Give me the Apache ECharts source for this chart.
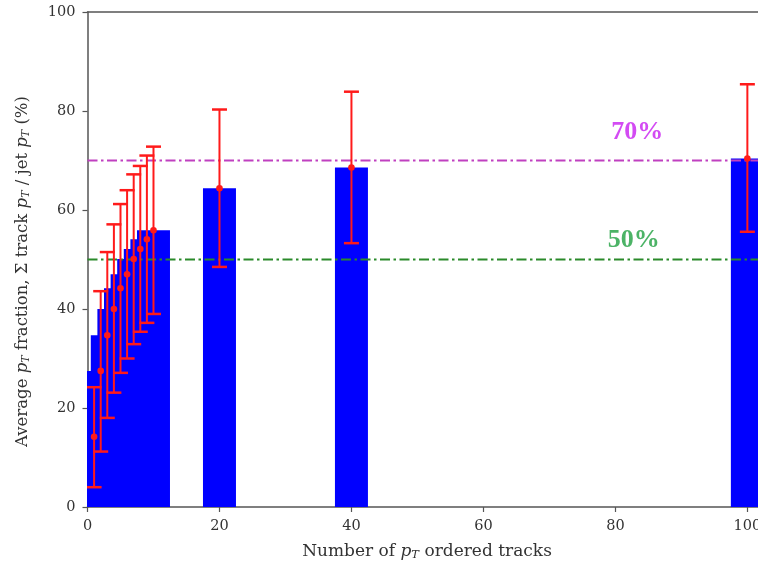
<!DOCTYPE html>
<html>
<head>
<meta charset="utf-8">
<script src="https://cdn.jsdelivr.net/npm/echarts@6/dist/echarts.min.js"></script>
<style>
html,body{margin:0;padding:0;background:#fff;overflow:hidden;}
#chart{width:758px;height:567px;}
</style>
</head>
<body>
<div id="chart"></div>
<script>
// Data
const tracks   = [1, 2, 3, 4, 5, 6, 7, 8, 9, 10, 20, 40, 100];
const meanFrac = [14.2, 27.5, 34.7, 40.0, 44.2, 47.0, 50.1, 52.1, 54.1, 55.9, 64.4, 68.6, 70.4];
const errLow   = [4.0, 11.2, 18.0, 23.1, 27.1, 30.0, 32.9, 35.4, 37.2, 39.0, 48.5, 53.3, 55.6];
const errHigh  = [24.2, 43.6, 51.5, 57.1, 61.2, 64.0, 67.2, 68.9, 71.0, 72.8, 80.3, 83.9, 85.4];
const barWidthUnits = 5;
const refLevels = [70, 50];
const refTexts = ['70%', '50%'];
const refTextPos = [[83.3, 75.8], [82.8, 53.8]];
const xTicks = [0, 20, 40, 60, 80, 100];
const yTicks = [0, 20, 40, 60, 80, 100];

const X_MAX = 102.9;
const chart = echarts.init(document.getElementById('chart'));

const barData = tracks.map((t, i) => [t, meanFrac[i]]);
const errData = tracks.map((t, i) => [t, meanFrac[i], errLow[i], errHigh[i]]);

const axisColor = '#555';
const serif = 'DejaVu Serif';

const option = {
  animation: false,
  backgroundColor: '#fff',
  grid: { left: 87.5, top: 12, height: 495, width: 679, containLabel: false, outerBoundsMode: 'none' },
  xAxis: [{
    type: 'value', min: 0, max: X_MAX, interval: 20,
    axisLine: { show: true, onZero: false, lineStyle: { color: axisColor, width: 1.5 } },
    axisTick: { show: true, inside: false, length: 5, lineStyle: { color: axisColor, width: 1.2 } },
    splitLine: { show: false },
    axisLabel: {
      color: '#333', fontFamily: serif, fontSize: 14.5, margin: 12,
      formatter: v => (xTicks.indexOf(v) >= 0 ? String(v) : '')
    },
    name: '{n|Number of }{i|p}{s|T}{n| ordered tracks}',
    nameLocation: 'middle', nameGap: 35,
    nameTextStyle: {
      color: '#333', fontFamily: serif, fontSize: 17,
      rich: {
        n: { fontFamily: serif, fontSize: 17, color: '#333' },
        i: { fontFamily: serif, fontSize: 17, fontStyle: 'italic', color: '#333' },
        s: { fontFamily: serif, fontSize: 11.5, fontStyle: 'italic', color: '#333', padding: [7, 0, 0, 0] }
      }
    }
  }, {
    type: 'value', min: 0, max: X_MAX, position: 'top',
    axisLine: { show: true, onZero: false, lineStyle: { color: axisColor, width: 1.5 } },
    axisTick: { show: false }, axisLabel: { show: false }, splitLine: { show: false }
  }],
  yAxis: {
    type: 'value', min: 0, max: 100, interval: 20,
    axisLine: { show: true, onZero: false, lineStyle: { color: axisColor, width: 1.5 } },
    axisTick: { show: true, inside: false, length: 5, lineStyle: { color: axisColor, width: 1.2 } },
    splitLine: { show: false },
    axisLabel: {
      color: '#333', fontFamily: serif, fontSize: 14.5, margin: 12,
      formatter: v => (yTicks.indexOf(v) >= 0 ? String(v) : '')
    },
    name: '{n|Average }{i|p}{s|T}{n| fraction, Σ track }{i|p}{s|T}{n| / jet }{i|p}{s|T}{n| (%)}',
    nameLocation: 'middle', nameGap: 56,
    nameTextStyle: {
      color: '#333', fontFamily: serif, fontSize: 16.5, padding: [0, 24, 0, 0],
      rich: {
        n: { fontFamily: serif, fontSize: 16.5, color: '#333' },
        i: { fontFamily: serif, fontSize: 16.5, fontStyle: 'italic', color: '#333' },
        s: { fontFamily: serif, fontSize: 11, fontStyle: 'italic', color: '#333', padding: [7, 0, 0, 0] }
      }
    }
  },
  series: [
    {
      type: 'custom', name: 'bars', clip: true,
      data: barData,
      encode: { x: 0, y: 1 },
      renderItem: function (params, api) {
        const x = api.value(0), y = api.value(1);
        const p0 = api.coord([x - barWidthUnits / 2, y]);
        const p1 = api.coord([x + barWidthUnits / 2, 0]);
        return {
          type: 'rect',
          shape: { x: p0[0], y: p0[1], width: p1[0] - p0[0], height: p1[1] - p0[1] },
          style: { fill: '#0000ff' }
        };
      },
      z: 2
    },
    {
      type: 'line', name: 'ref70', data: [[0, refLevels[0]], [X_MAX, refLevels[0]]],
      symbol: 'none', lineStyle: { color: '#c040c0', width: 2, type: [10, 3.5, 2.5, 3.5] }, z: 3, silent: true
    },
    {
      type: 'line', name: 'ref50', data: [[0, refLevels[1]], [X_MAX, refLevels[1]]],
      symbol: 'none', lineStyle: { color: '#2a8a2a', width: 2, type: [10, 3.5, 2.5, 3.5] }, z: 3, silent: true
    },
    {
      type: 'custom', name: 'errors', clip: true,
      data: errData,
      encode: { x: 0, y: [1, 2, 3] },
      renderItem: function (params, api) {
        const x = api.value(0);
        const m = api.coord([x, api.value(1)]);
        const lo = api.coord([x, api.value(2)]);
        const hi = api.coord([x, api.value(3)]);
        const cw = 7.5;
        return {
          type: 'group',
          children: [
            { type: 'line', shape: { x1: lo[0], y1: lo[1], x2: hi[0], y2: hi[1] }, style: { stroke: '#ff1a1a', lineWidth: 2 } },
            { type: 'line', shape: { x1: lo[0] - cw, y1: lo[1], x2: lo[0] + cw, y2: lo[1] }, style: { stroke: '#ff1a1a', lineWidth: 2.5 } },
            { type: 'line', shape: { x1: hi[0] - cw, y1: hi[1], x2: hi[0] + cw, y2: hi[1] }, style: { stroke: '#ff1a1a', lineWidth: 2.5 } },
            { type: 'circle', shape: { cx: m[0], cy: m[1], r: 3.3 }, style: { fill: '#ff1a1a' } }
          ]
        };
      },
      z: 4
    },
    {
      type: 'scatter', name: 'texts', symbolSize: 0, silent: true,
      data: refTextPos.map((p, i) => ({
        value: p,
        label: {
          show: true, position: 'inside', formatter: refTexts[i],
          fontFamily: 'Liberation Serif', fontWeight: 'bold', fontSize: 26,
          color: i === 0 ? '#c81ef0' : '#1fa040'
        }
      })),
      z: 5
    }
  ]
};
chart.setOption(option);
</script>
</body>
</html>
